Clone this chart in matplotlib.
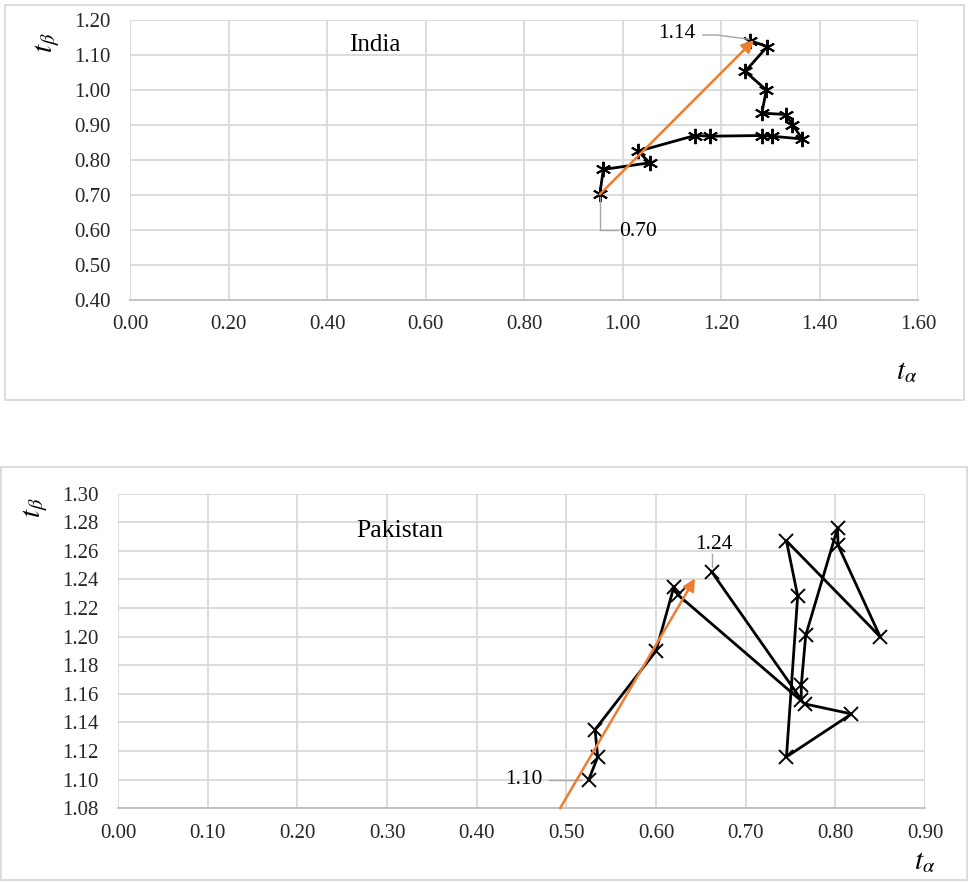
import matplotlib
matplotlib.use("Agg")
import matplotlib.pyplot as plt
from matplotlib.patches import Rectangle
import numpy as np

# Datos (t_alpha, t_beta)
india_ta = [0.954, 0.961, 1.055, 1.032, 1.147, 1.177, 1.283, 1.304, 1.365,
            1.345, 1.331, 1.283, 1.292, 1.249, 1.294, 1.259]
india_tb = [0.702, 0.773, 0.792, 0.825, 0.870, 0.868, 0.870, 0.868, 0.860,
            0.901, 0.930, 0.934, 1.000, 1.053, 1.124, 1.141]

pak_ta = [0.525, 0.535, 0.532, 0.600, 0.620, 0.625, 0.766, 0.818, 0.7455,
          0.758, 0.7455, 0.850, 0.803, 0.8025, 0.767, 0.762, 0.762, 0.662]
pak_tb = [1.100, 1.116, 1.135, 1.190, 1.235, 1.229, 1.153, 1.146, 1.116,
          1.2285, 1.267, 1.200, 1.264, 1.276, 1.201, 1.166, 1.156, 1.2455]

# Flechas de tendencia (inicio, fin)
india_arrow = [(0.954, 0.702), (1.267, 1.143)]
pak_arrow = [(0.493, 1.080), (0.6435, 1.2408)]

india_xticks = np.arange(0, 1.61, 0.2)
india_yticks = np.arange(0.4, 1.201, 0.1)
pak_xticks = np.arange(0, 0.901, 0.1)
pak_yticks = np.arange(1.08, 1.301, 0.02)

plt.rcParams['font.family'] = ['Liberation Serif', 'DejaVu Serif']
plt.rcParams['mathtext.fontset'] = 'stix'

W, H = 969, 883
fig = plt.figure(figsize=(W / 100, H / 100), dpi=100)

def px_rect(x0, y0, x1, y1):
    # convierte pixeles (origen arriba-izquierda) a fracciones de figura
    return [x0 / W, 1 - y1 / H, (x1 - x0) / W, (y1 - y0) / H]

# Marcos de los graficos (estilo Excel)
for r in [(5, 5, 964, 400), (1, 467, 967, 880)]:
    x0, y0, w, h = px_rect(*r)
    fig.add_artist(Rectangle((x0, y0), w, h, transform=fig.transFigure,
                             fill=False, edgecolor='#d9d9d9', lw=1.3))

def style_axes(ax, xticks, yticks):
    ax.set_xticks(xticks)
    ax.set_yticks(yticks)
    ax.set_xlim(xticks[0], xticks[-1])
    ax.set_ylim(yticks[0], yticks[-1])
    ax.xaxis.set_major_formatter(matplotlib.ticker.FormatStrFormatter('%.2f'))
    ax.yaxis.set_major_formatter(matplotlib.ticker.FormatStrFormatter('%.2f'))
    ax.grid(True, color='#d9d9d9', lw=1.3)
    ax.set_axisbelow(True)
    for s in ['top', 'right', 'left']:
        ax.spines[s].set_visible(False)
    ax.spines['bottom'].set_color('#bfbfbf')
    ax.spines['bottom'].set_linewidth(1.3)
    ax.tick_params(length=0, labelsize=15, colors='#262626')
    ax.tick_params(axis='x', pad=11)
    ax.tick_params(axis='y', pad=14)

# ---------- India ----------
ax1 = fig.add_axes(px_rect(130, 20, 918, 300))
style_axes(ax1, india_xticks, india_yticks)
ax1.plot(india_ta, india_tb, color='black', lw=2, marker=(6, 2, 0),
         markersize=11, mew=1.4, clip_on=False)
ax1.annotate('', xy=india_arrow[1], xytext=india_arrow[0],
             arrowprops=dict(arrowstyle='-|>', color='#ed7d31', lw=1.8,
                             mutation_scale=18, shrinkA=0, shrinkB=0))
ax1.text(0.497, 1.129, 'India', fontsize=18, ha='center', va='center')
# etiquetas de datos con linea guia
ax1.plot([0.954, 0.954, 0.99], [0.695, 0.60, 0.60], color='#a6a6a6', lw=1)
ax1.text(0.993, 0.595, '0.70', fontsize=15.5, ha='left', va='center')
ax1.plot([1.163, 1.193, 1.257], [1.157, 1.157, 1.145], color='#a6a6a6', lw=1)
ax1.text(1.149, 1.160, '1.14', fontsize=15.5, ha='right', va='center')
fig.text(48 / W, 1 - 43 / H, r'$t_\beta$', fontsize=21, rotation=90,
         ha='center', va='center')
fig.text(907 / W, 1 - 372 / H, r'$t_\alpha$', fontsize=21,
         ha='center', va='center')

# ---------- Pakistan ----------
ax2 = fig.add_axes(px_rect(118, 493.7, 925, 808.3))
style_axes(ax2, pak_xticks, pak_yticks)
ax2.plot(pak_ta, pak_tb, color='black', lw=2, marker='x',
         markersize=10, mew=1.4, clip_on=False)
ax2.annotate('', xy=pak_arrow[1], xytext=pak_arrow[0],
             arrowprops=dict(arrowstyle='-|>', color='#ed7d31', lw=1.8,
                             mutation_scale=18, shrinkA=0, shrinkB=0))
ax2.text(0.314, 1.274, 'Pakistan', fontsize=18.5, ha='center', va='center')
ax2.plot([0.481, 0.516], [1.100, 1.100], color='#a6a6a6', lw=1)
ax2.text(0.474, 1.100, '1.10', fontsize=15.5, ha='right', va='center')
ax2.plot([0.662, 0.662], [1.2485, 1.258], color='#a6a6a6', lw=1)
ax2.text(0.664, 1.2645, '1.24', fontsize=15.5, ha='center', va='center')
fig.text(36 / W, 1 - 508 / H, r'$t_\beta$', fontsize=21, rotation=90,
         ha='center', va='center')
fig.text(925 / W, 1 - 862 / H, r'$t_\alpha$', fontsize=21,
         ha='center', va='center')

fig.savefig('out.png', dpi=100)
